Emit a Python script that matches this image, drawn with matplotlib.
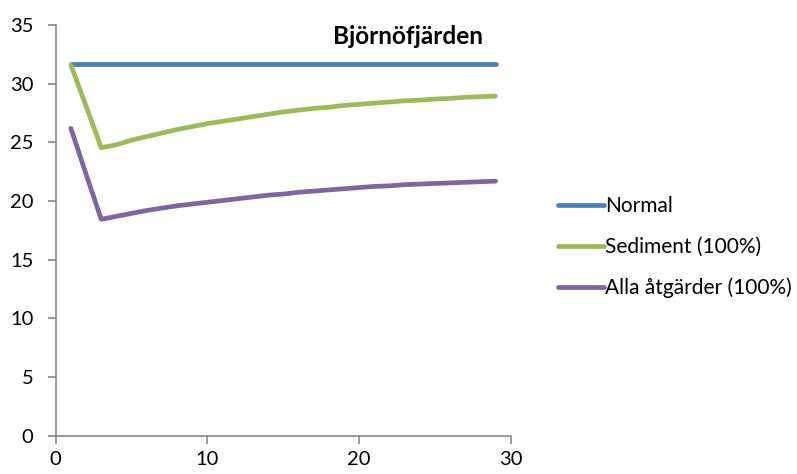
import matplotlib.pyplot as plt

plt.rcParams['font.family'] = ['Lato', 'DejaVu Sans']

x = list(range(1, 30))
normal = [31.7] * 29
sediment = [31.6, 28.1, 24.55, 24.8, 25.2, 25.5, 25.8, 26.1, 26.35, 26.6,
            26.8, 27.0, 27.2, 27.4, 27.6, 27.75, 27.9, 28.0, 28.15, 28.25,
            28.35, 28.45, 28.55, 28.6, 28.7, 28.75, 28.85, 28.9, 28.95]
alla = [26.2, 22.3, 18.45, 18.7, 18.95, 19.2, 19.4, 19.6, 19.75, 19.9,
        20.05, 20.2, 20.35, 20.5, 20.6, 20.75, 20.85, 20.95, 21.05, 21.15,
        21.25, 21.3, 21.4, 21.45, 21.5, 21.55, 21.6, 21.65, 21.7]
labels = ['Normal', 'Sediment (100%)', 'Alla åtgärder (100%)']
colors = ['#4A7EBB', '#9BBB59', '#8064A2']

fig = plt.figure(figsize=(7.97, 4.74), dpi=100)
ax = fig.add_axes([0.0699, 0.0808, 0.5709, 0.8662])

for y, lab, c in zip([normal, sediment, alla], labels, colors):
    ax.plot(x, y, color=c, lw=3.4, label=lab, solid_capstyle='round', solid_joinstyle='round')

ax.set_xlim(0, 30)
ax.set_ylim(0, 35)
ax.set_xticks([0, 10, 20, 30])
ax.set_yticks(range(0, 36, 5))
for s in ['top', 'right']:
    ax.spines[s].set_visible(False)
for s in ['left', 'bottom']:
    ax.spines[s].set_color('#888888')
    ax.spines[s].set_linewidth(1.2)
ax.tick_params(colors='#888888', labelcolor='black', labelsize=14.5, length=6, width=1.2)
ax.tick_params(axis='y', pad=10)
ax.tick_params(axis='x', pad=5)

ax.text(0.775, 1.0, 'Björnöfjärden', transform=ax.transAxes, ha='center', va='top',
        fontsize=17.5, fontweight='bold')

fig.legend(loc='upper left', bbox_to_anchor=(0.676, 0.626), frameon=False, fontsize=15,
           handlelength=2.25, handletextpad=0.05, labelspacing=1.0)

fig.savefig('out.png', dpi=100)
